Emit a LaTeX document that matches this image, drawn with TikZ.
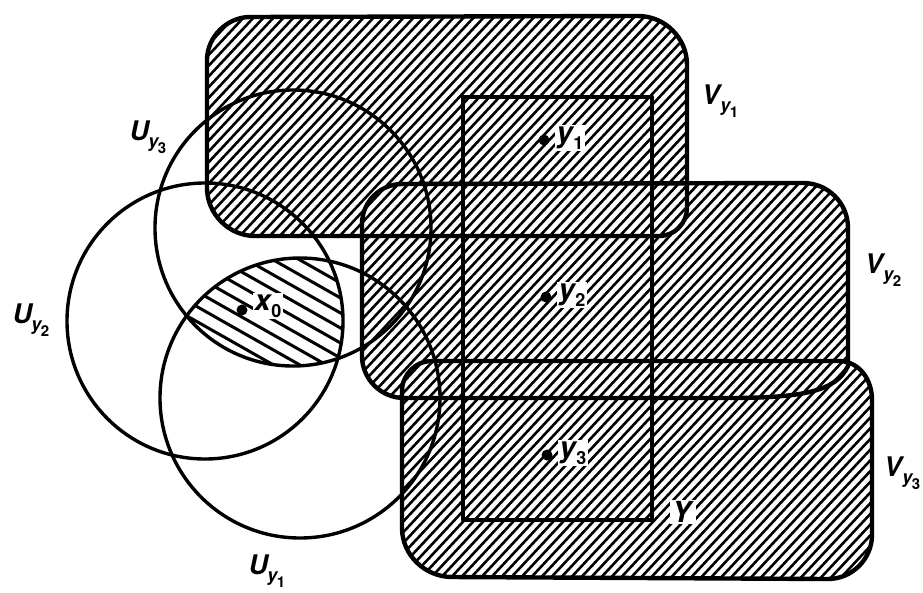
\documentclass[tikz,border=0pt]{standalone}
\usepackage{fontspec}
\setmainfont{TeX Gyre Heros}
\newcommand{\lblA}[3]{\textit{#1}\kern-2pt\raisebox{-7pt}{\fontsize{18}{18}\selectfont\textit{#2}\kern-1.5pt\raisebox{-6pt}{\fontsize{15}{15}\selectfont #3}}}
\newcommand{\lblB}[2]{\textit{#1}\kern-1pt\raisebox{-7pt}{\fontsize{18}{18}\selectfont #2}}
\begin{document}
\begin{tikzpicture}[x=1pt,y=-1pt,line join=round,
  outline/.style={line width=4.4pt},
  circ/.style={line width=3.4pt},
  hatch/.style={line width=2.6pt},
  hatchx/.style={line width=3pt},
  lab/.style={font=\fontsize{27}{27}\selectfont\bfseries, inner sep=0pt},
  plab/.style={font=\fontsize{29}{29}\selectfont\bfseries, inner sep=1.5pt, fill=white},
  dot/.style={circle, fill=black, inner sep=0pt, minimum size=11pt}]
\useasboundingbox (0,0) rectangle (923,592);
\def\VA{(250,17) -- (638,16) .. controls (665,16) and (687,38) .. (687,65) -- (687,208) .. controls (687,223) and (675,236) .. (659,236) -- (255,236) .. controls (229,236) and (207,214) .. (207,188) -- (207,60) .. controls (207,37) and (227,17) .. (250,17) -- cycle}
\def\VB{(402,184) -- (803,183) .. controls (828,183) and (848,203) .. (848,228) -- (848,366) .. controls (836,392) and (800,397) .. (740,398) -- (404,398) .. controls (381,398) and (362,379) .. (362,356) -- (362,224) .. controls (362,202) and (380,184) .. (402,184) -- cycle}
\def\VC{(432,361) -- (840,361) .. controls (860,362) and (872,380) .. (872,400) -- (872,535) .. controls (872,559) and (852,579) .. (828,579) -- (452,577) .. controls (425,577) and (402,555) .. (402,528) -- (402,391) .. controls (402,375) and (415,361) .. (432,361) -- cycle}
% hatching of the V sets
\begin{scope}
  \clip \VA \VB \VC;
  \foreach \i in {-700,-690,...,1000} \draw[hatch] (\i,600) -- (\i+560,0);
\end{scope}
% hatching of the intersection of the U sets
\begin{scope}
  \clip (300,398) circle (140);
  \clip (205,321) circle (138);
  \clip (293,228) circle (138);
  \foreach \i in {120,135,...,420} \draw[hatchx] (150,\i-80) -- (450,\i+90);
\end{scope}
% outlines
\draw[outline] \VA;
\draw[outline] \VB;
\draw[outline] \VC;
\draw[outline] (463,97) rectangle (652,520);
\draw[circ] (293,228) circle (138);
\draw[circ] (205,321) circle (138);
\draw[circ] (300,398) circle (140);
% points
\node[dot] (y1) at (544,140) {};
\node[dot] (y2) at (546,297) {};
\node[dot] (y3) at (547,455) {};
\node[dot] (x0) at (242,310) {};
\node[plab, anchor=west] (ly1) at (555,138) {\lblB{y}{1}};
\node[plab, anchor=west] (ly2) at (557,295) {\lblB{y}{2}};
\node[plab, anchor=west] (ly3) at (558,453) {\lblB{y}{3}};
\node[plab, anchor=west] (lx0) at (253,306) {\lblB{x}{0}};
% set labels
\node[lab] (lU3) at (148,137) {\lblA{U}{y}{3}};
\node[lab] (lU2) at (31,320) {\lblA{U}{y}{2}};
\node[lab] (lU1) at (267,571) {\lblA{U}{y}{1}};
\node[lab] (lV1) at (720,101) {\lblA{V}{y}{1}};
\node[lab] (lV2) at (883,270) {\lblA{V}{y}{2}};
\node[lab] (lV3) at (902,473) {\lblA{V}{y}{3}};
\node[plab] (lY) at (683,512) {\textit{Y}};
\end{tikzpicture}
\end{document}
